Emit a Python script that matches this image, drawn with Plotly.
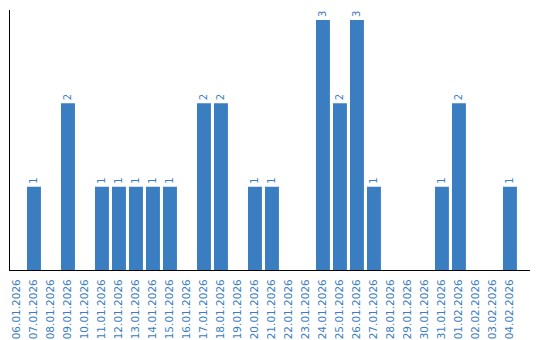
import plotly.graph_objects as go

dates = ["06.01.2026","07.01.2026","08.01.2026","09.01.2026","10.01.2026","11.01.2026",
         "12.01.2026","13.01.2026","14.01.2026","15.01.2026","16.01.2026","17.01.2026",
         "18.01.2026","19.01.2026","20.01.2026","21.01.2026","22.01.2026","23.01.2026",
         "24.01.2026","25.01.2026","26.01.2026","27.01.2026","28.01.2026","29.01.2026",
         "30.01.2026","31.01.2026","01.02.2026","02.02.2026","03.02.2026","04.02.2026"]
counts = [0,1,0,2,0,1,1,1,1,1,0,2,2,0,1,1,0,0,3,2,3,1,0,0,0,1,2,0,0,1]

blue = "#3a7dc1"
labels = [str(v) if v > 0 else "" for v in counts]

fig = go.Figure(go.Bar(
    x=list(range(len(dates))), y=counts, marker_color=blue, marker_line_width=0,
    text=labels, textposition="outside", textangle=-90, cliponaxis=False,
    textfont=dict(color=blue, size=10, family="DejaVu Sans"),
))
fig.update_layout(
    width=540, height=340, margin=dict(l=10, r=10, t=10, b=70, autoexpand=False),
    paper_bgcolor="white", plot_bgcolor="white", showlegend=False, bargap=0.18,
    xaxis=dict(tickmode="array", tickvals=list(range(len(dates))), ticktext=dates,
               tickangle=-90, range=[-0.41, 30.18], showgrid=False, zeroline=False,
               showline=True, linecolor="black", linewidth=1, ticks="",
               ticklabelstandoff=4, automargin=False,
               tickfont=dict(color=blue, size=10.5, family="DejaVu Sans")),
    yaxis=dict(range=[0, 3.12], showgrid=False, zeroline=False, showticklabels=False,
               showline=True, linecolor="black", linewidth=1, ticks="", automargin=False),
)
fig.write_html("out.html")
